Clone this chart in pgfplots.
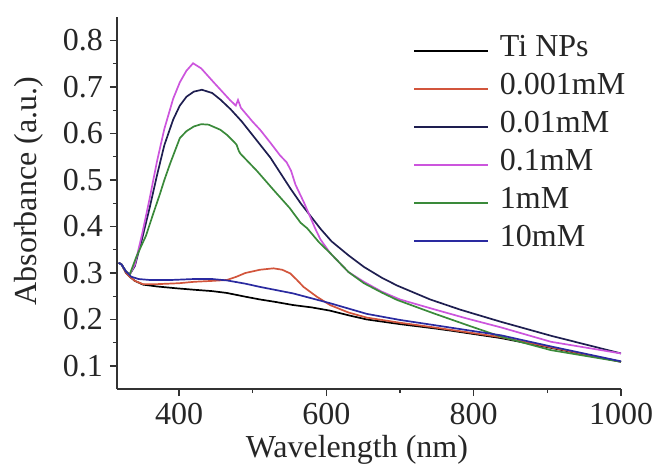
\documentclass[border=0pt]{standalone}
\usepackage{pgfplots}
\pgfplotsset{compat=1.18}
\usepackage{fontspec}
\setmainfont{Liberation Serif}
\definecolor{cRed}{HTML}{D2553C}
\definecolor{cNavy}{HTML}{1E1E50}
\definecolor{cMag}{HTML}{CC55DD}
\definecolor{cGreen}{HTML}{3A8A3A}
\definecolor{cBlue}{HTML}{2A2AA0}
\begin{document}
\begin{tikzpicture}
\path[use as bounding box] (-58.5pt,-38.5pt) rectangle (270pt,194.5pt);
\begin{axis}[
  at={(0pt,0pt)}, anchor=south west,
  scale only axis, width=252pt, height=186pt,
  xmin=315.7, xmax=1000, ymin=0.0505, ymax=0.8505,
  axis x line*=bottom, axis y line*=left,
  axis line style={-, black!80, line width=0.6pt},
  every tick/.style={black!80, line width=0.6pt},
  tick align=outside, major tick length=3.5pt, minor tick length=2pt,
  xtick={400,600,800,1000}, minor xtick={500,700,900},
  ytick={0.1,0.2,0.3,0.4,0.5,0.6,0.7,0.8},
  minor ytick={0.15,0.25,0.35,0.45,0.55,0.65,0.75},
  /pgf/number format/assume math mode=true,
  yticklabel style={/pgf/number format/fixed, /pgf/number format/fixed zerofill, /pgf/number format/precision=1},
  xticklabel style={/pgf/number format/1000 sep={}},
  tick label style={font=\fontsize{16}{19}\selectfont, text=black!85},
  label style={font=\fontsize{16}{19}\selectfont, text=black!85},
  xlabel={Wavelength (nm)},
  ylabel={Absorbance (a.u.)},
  xlabel style={at={(axis description cs:0.476,-0.1828)}, anchor=base},
  ylabel style={at={(axis description cs:-0.1746,0.532)}, anchor=center},
  legend style={at={(axis description cs:0.587,0.96)}, anchor=north west,
    draw=none, fill=none, inner sep=0pt, row sep=0pt,
    font=\fontsize{16}{19}\selectfont, text=black!85,
    nodes={inner xsep=1pt, inner ysep=0pt, text height=12pt, text depth=7pt},
    /tikz/every odd column/.append style={column sep=4.5pt}},
  legend cell align=left,
  legend image code/.code={\draw[#1] (0pt,0pt) -- (37pt,0pt);},
  every axis plot/.append style={line width=0.85pt},
]
\addplot[black] coordinates {
(318,0.322)(322,0.318)(328,0.300)(333,0.292)(340,0.283)(351,0.275)(370,0.271)(397,0.267)(420,0.264)(445,0.261)(465,0.257)(490,0.249)(510,0.243)(530,0.238)(555,0.231)(580,0.226)(605,0.219)(630,0.209)(655,0.200)(700,0.190)(746,0.181)(769,0.176)(837,0.160)(905,0.139)(1000,0.109)};
\addlegendentry{Ti NPs}
\addplot[cRed] coordinates {
(318,0.322)(322,0.318)(328,0.300)(333,0.292)(340,0.283)(351,0.276)(370,0.276)(400,0.278)(420,0.281)(445,0.283)(465,0.285)(478,0.292)(490,0.300)(510,0.307)(528,0.310)(540,0.307)(551,0.299)(560,0.285)(569,0.270)(587,0.249)(605,0.231)(630,0.215)(655,0.204)(700,0.193)(746,0.183)(837,0.162)(905,0.140)(1000,0.109)};
\addlegendentry{0.001mM}
\addplot[cNavy] coordinates {
(318,0.322)(322,0.318)(328,0.303)(333,0.297)(340,0.315)(350,0.375)(360,0.44)(370,0.51)(380,0.575)(392,0.630)(401,0.660)(410,0.679)(420,0.690)(431,0.694)(445,0.687)(456,0.673)(470,0.652)(485,0.626)(503,0.590)(524,0.548)(551,0.482)(565,0.450)(592,0.395)(607,0.368)(630,0.338)(651,0.313)(675,0.290)(696,0.273)(741,0.243)(782,0.221)(837,0.195)(905,0.165)(1000,0.127)};
\addlegendentry{0.01mM}
\addplot[cMag] coordinates {
(318,0.322)(322,0.318)(328,0.303)(333,0.297)(340,0.318)(350,0.385)(360,0.46)(370,0.54)(380,0.61)(392,0.675)(401,0.71)(410,0.735)(419,0.751)(430,0.740)(447,0.710)(469,0.672)(477,0.660)(480,0.672)(484,0.655)(500,0.625)(510,0.608)(524,0.580)(537,0.553)(546,0.538)(552,0.520)(558,0.490)(570,0.450)(585,0.395)(592,0.372)(605,0.343)(630,0.302)(651,0.281)(675,0.260)(700,0.243)(746,0.222)(791,0.202)(837,0.183)(905,0.152)(1000,0.127)};
\addlegendentry{0.1mM}
\addplot[cGreen] coordinates {
(318,0.322)(322,0.318)(328,0.303)(333,0.297)(342,0.335)(355,0.38)(365,0.428)(374,0.47)(380,0.50)(388,0.536)(401,0.590)(410,0.605)(420,0.615)(430,0.620)(440,0.619)(456,0.608)(465,0.597)(474,0.583)(478,0.576)(481,0.563)(483,0.557)(506,0.519)(528,0.479)(550,0.440)(565,0.408)(574,0.396)(590,0.366)(605,0.343)(630,0.302)(651,0.278)(675,0.258)(696,0.242)(746,0.213)(791,0.188)(837,0.163)(905,0.134)(1000,0.109)};
\addlegendentry{1mM}
\addplot[cBlue] coordinates {
(318,0.322)(322,0.318)(328,0.303)(335,0.292)(345,0.287)(360,0.285)(390,0.285)(420,0.287)(445,0.287)(465,0.284)(490,0.277)(510,0.270)(555,0.256)(605,0.235)(655,0.212)(700,0.199)(746,0.188)(837,0.166)(905,0.142)(1000,0.110)};
\addlegendentry{10mM}
\end{axis}
\end{tikzpicture}
\end{document}
